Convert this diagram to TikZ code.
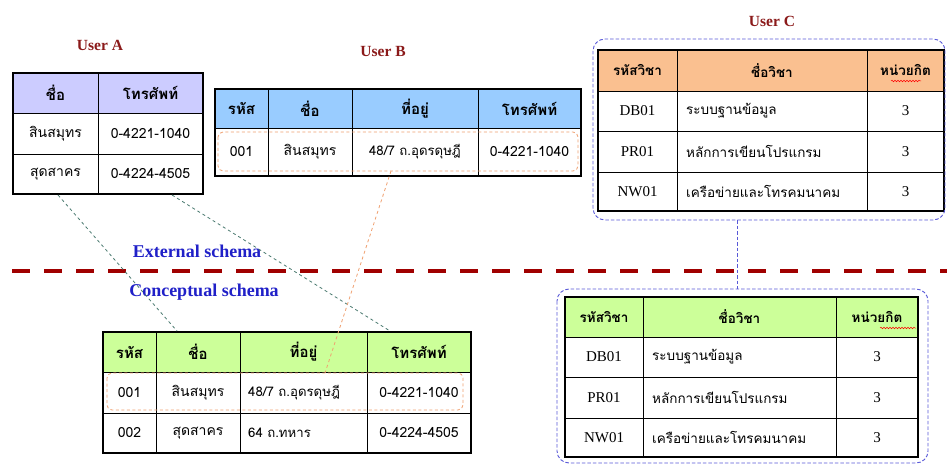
\documentclass[tikz,border=0pt]{standalone}
\usepackage{fontspec}
\setmainfont{Liberation Serif}
\newfontfamily\thai[Script=Thai]{Loma}
\usetikzlibrary{decorations.pathmorphing}
\definecolor{hdrA}{HTML}{CCCCFF}
\definecolor{hdrB}{HTML}{99CCFF}
\definecolor{hdrC}{HTML}{FAC090}
\definecolor{hdrG}{HTML}{CCFF99}
\definecolor{schemared}{HTML}{A00000}
\definecolor{userred}{HTML}{8B1A1A}
\definecolor{schemablue}{HTML}{2020C8}
\definecolor{linkgreen}{HTML}{4A7A70}
\definecolor{linkorange}{HTML}{F0A070}
\definecolor{groupblue}{HTML}{5858D8}
\begin{document}
\begin{tikzpicture}[x=1pt,y=-1pt,
  cell/.style={font=\thai\fontsize{14}{16}\selectfont, inner sep=0pt, anchor=center},
  addr/.style={font=\thai\fontsize{13.2}{15}\selectfont, inner sep=0pt, anchor=west},
  hcell/.style={font=\thai\bfseries\fontsize{15}{17}\selectfont, inner sep=0pt, anchor=center},
  ccell/.style={font=\thai\fontsize{13.5}{15}\selectfont, inner sep=0pt, anchor=west},
  chcell/.style={font=\thai\bfseries\fontsize{13.5}{15}\selectfont, inner sep=0pt, anchor=center},
  ecell/.style={font=\fontsize{15}{17}\selectfont, inner sep=0pt, anchor=center},
  frame/.style={line width=2.4pt},
  gridline/.style={line width=0.8pt},
  userlabel/.style={font=\bfseries\fontsize{15.5}{17}\selectfont, text=userred, inner sep=0pt},
  schemalabel/.style={font=\bfseries\fontsize{18}{20}\selectfont, text=schemablue, inner sep=0pt},
  group/.style={draw=groupblue, dash pattern=on 3.5pt off 2pt, line width=0.9pt, rounded corners=12pt},
  rowmark/.style={draw=linkorange, dash pattern=on 3pt off 2.5pt, line width=0.8pt, rounded corners=5pt},
  greenlink/.style={draw=linkgreen, dashed, line width=0.8pt},
  orangelink/.style={draw=linkorange, dashed, line width=0.8pt},
  bluelink/.style={draw=groupblue, dash pattern=on 3.5pt off 2pt, line width=0.9pt},
  spell/.style={draw=red, line width=0.5pt, decorate, decoration={snake, amplitude=0.8pt, segment length=3pt}}
]
\useasboundingbox (0,0) rectangle (947,465);
\fill[white] (0,0) rectangle (947,465);

% ---------- schema divider ----------
\coordinate (divL) at (12,271);
\coordinate (divR) at (947,271);
\draw[schemared, line width=4.5pt, dash pattern=on 18pt off 14pt] (divL) -- (divR);
\node[schemalabel] (ext) at (197,251) {External schema};
\node[schemalabel] (con) at (204,292) {Conceptual schema};

% ---------- User A ----------
\node[userlabel] (uA) at (100,45) {User A};
\fill[hdrA] (13,73) rectangle (203,113);
\draw[gridline] (13,113) -- (203,113) (13,154) -- (203,154) (98,73) -- (98,194);
\draw[frame] (13,73) rectangle (203,194);
\node[hcell] (A01) at (55.5,93) {ชื่อ};
\node[hcell] (A02) at (150.5,93) {โทรศัพท์};
\node[cell] (A11) at (55.5,133.5) {สินสมุทร};
\node[cell] (A12) at (150.5,133.5) {0-4221-1040};
\node[cell] (A21) at (55.5,174) {สุดสาคร};
\node[cell] (A22) at (150.5,174) {0-4224-4505};
\coordinate (Aout1) at (58,195);
\coordinate (Aout2) at (172,195);

% ---------- User B ----------
\node[userlabel] (uB) at (383,52) {User B};
\fill[hdrB] (215,89) rectangle (581,128);
\draw[gridline] (215,128) -- (581,128) (268,89) -- (268,176) (352,89) -- (352,176) (478,89) -- (478,176);
\draw[frame] (215,89) rectangle (581,176);
\node[hcell] (B01) at (241.5,108.5) {รหัส};
\node[hcell] (B02) at (310,108.5) {ชื่อ};
\node[hcell] (B03) at (415,108.5) {ที่อยู่};
\node[hcell] (B04) at (529.5,108.5) {โทรศัพท์};
\node[cell] (B11) at (241.5,152) {001};
\node[cell] (B12) at (310,152) {สินสมุทร};
\node[addr, anchor=center] (B13) at (415,152) {48/7 ถ.อุดรดุษฎี};
\node[cell] (B14) at (529.5,152) {0-4221-1040};
\draw[rowmark] (218,132) rectangle (578,171);
\coordinate (Bout) at (391,171);

% ---------- User C ----------
\node[userlabel] (uC) at (772,21) {User C};
\fill[hdrC] (598,50) rectangle (944,91);
\draw[gridline] (598,91) -- (944,91) (598,131) -- (944,131) (598,172) -- (944,172)
  (677,50) -- (677,211) (867,50) -- (867,211);
\draw[frame] (598,50) rectangle (944,211);
\node[chcell] (C01) at (637.5,70.5) {รหัสวิชา};
\node[chcell] (C02) at (772,70.5) {ชื่อวิชา};
\node[chcell] (C03) at (905.5,70.5) {หน่วยกิต};
\draw[spell] (891,81) -- (921,81);
\node[ecell] (C11) at (637.5,111) {DB01};
\node[ccell] (C12) at (686,111) {ระบบฐานข้อมูล};
\node[ecell] (C13) at (905.5,111) {3};
\node[ecell] (C21) at (637.5,151.5) {PR01};
\node[ccell] (C22) at (686,151.5) {หลักการเขียนโปรแกรม};
\node[ecell] (C23) at (905.5,151.5) {3};
\node[ecell] (C31) at (637.5,191.5) {NW01};
\node[ccell] (C32) at (686,191.5) {เครือข่ายและโทรคมนาคม};
\node[ecell] (C33) at (905.5,191.5) {3};
\draw[group] (593,39) rectangle (945,220);
\coordinate (Cout) at (737,220);

% ---------- Conceptual table ----------
\fill[hdrG] (103,332) rectangle (471,372);
\draw[gridline] (103,372) -- (471,372) (103,413) -- (471,413)
  (156,332) -- (156,453) (240,332) -- (240,453) (367,332) -- (367,453);
\draw[frame] (103,332) rectangle (471,453);
\node[hcell] (D01) at (129.5,352) {รหัส};
\node[hcell] (D02) at (198,352) {ชื่อ};
\node[hcell] (D03) at (303.5,352) {ที่อยู่};
\node[hcell] (D04) at (419,352) {โทรศัพท์};
\node[cell] (D11) at (129.5,392.5) {001};
\node[cell] (D12) at (198,392.5) {สินสมุทร};
\node[addr] (D13) at (248,392.5) {48/7 ถ.อุดรดุษฎี};
\node[cell] (D14) at (419,392.5) {0-4221-1040};
\node[cell] (D21) at (129.5,433) {002};
\node[cell] (D22) at (198,433) {สุดสาคร};
\node[addr] (D23) at (248,433) {64 ถ.ทหาร};
\node[cell] (D24) at (419,433) {0-4224-4505};
\draw[rowmark] (107,373) rectangle (463,410);
\coordinate (Din1) at (177,331);
\coordinate (Din2) at (390,331);
\coordinate (Din3) at (325,373);

% ---------- Conceptual course table ----------
\fill[hdrG] (565,297) rectangle (918,337);
\draw[gridline] (565,337) -- (918,337) (565,377) -- (918,377) (565,418) -- (918,418)
  (643,297) -- (643,457) (836,297) -- (836,457);
\draw[frame] (565,297) rectangle (918,457);
\node[chcell] (E01) at (604,317) {รหัสวิชา};
\node[chcell] (E02) at (739.5,317) {ชื่อวิชา};
\node[chcell] (E03) at (877,317) {หน่วยกิต};
\draw[spell] (880,328) -- (916,328);
\node[ecell] (E11) at (604,357) {DB01};
\node[ccell] (E12) at (652,357) {ระบบฐานข้อมูล};
\node[ecell] (E13) at (877,357) {3};
\node[ecell] (E21) at (604,397.5) {PR01};
\node[ccell] (E22) at (652,397.5) {หลักการเขียนโปรแกรม};
\node[ecell] (E23) at (877,397.5) {3};
\node[ecell] (E31) at (604,437.5) {NW01};
\node[ccell] (E32) at (652,437.5) {เครือข่ายและโทรคมนาคม};
\node[ecell] (E33) at (877,437.5) {3};
\draw[group] (557,289) rectangle (928,463);
\coordinate (Ein) at (737,289);

% ---------- connectors ----------
\draw[greenlink] (Aout1) -- (Din1);
\draw[greenlink] (Aout2) -- (Din2);
\draw[orangelink] (Bout) -- (Din3);
\draw[bluelink] (Cout) -- (Ein);
\end{tikzpicture}
\end{document}
